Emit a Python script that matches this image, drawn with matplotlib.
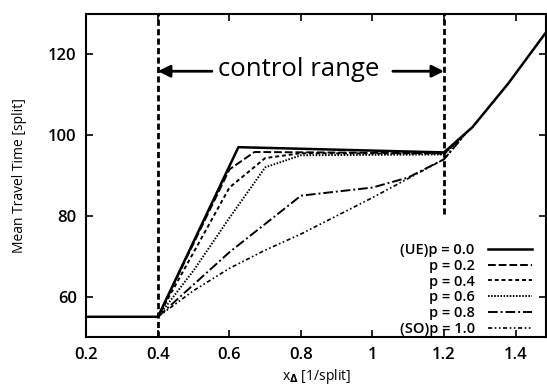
import matplotlib
matplotlib.use("Agg")
import matplotlib.pyplot as plt

plt.rcParams['font.family'] = ['Open Sans', 'DejaVu Sans']
plt.rcParams['font.weight'] = 'semibold'

# Common tail (all strategies converge beyond the control range)
tail_x = [1.28, 1.38, 1.485]
tail_y = [102.0, 112.8, 125.4]

x_ue = [0.2, 0.4, 0.625, 1.2] + tail_x
y_ue = [55.0, 55.0, 97.0, 95.7] + tail_y

x_p02 = [0.4, 0.6, 0.67, 1.2, 1.24]
y_p02 = [55.0, 91.5, 95.8, 95.5, 98.8]

x_p04 = [0.4, 0.6, 0.7, 0.8, 1.2, 1.24]
y_p04 = [55.0, 87.0, 94.3, 95.5, 95.4, 98.7]

x_p06 = [0.4, 0.5, 0.6, 0.7, 0.8, 1.2, 1.24]
y_p06 = [55.0, 66.5, 79.5, 92.0, 95.0, 95.2, 98.6]

x_p08 = [0.4, 0.6, 0.8, 1.0, 1.1, 1.2, 1.26]
y_p08 = [55.0, 71.0, 85.0, 87.0, 89.5, 94.0, 100.3]

x_so = [0.4, 0.5, 0.6, 0.7, 0.8, 1.0, 1.2, 1.26]
y_so = [55.0, 61.5, 67.0, 71.5, 75.5, 84.5, 94.0, 100.3]

labels = ["(UE)p = 0.0", "p = 0.2", "p = 0.4", "p = 0.6", "p = 0.8", "(SO)p = 1.0"]
series = [(x_ue, y_ue), (x_p02, y_p02), (x_p04, y_p04), (x_p06, y_p06), (x_p08, y_p08), (x_so, y_so)]
styles = ['-', (0, (4, 1.5)), (0, (2, 1.5)), (0, (0.8, 0.8)), (0, (5, 1.5, 1, 1.5)), (0, (2.5, 1.5, 1, 1.5, 1, 1.5))]
widths = [1.8, 1.4, 1.4, 1.4, 1.4, 1.2]

control_lo, control_hi = 0.4, 1.2
control_hi_line_bottom = 80.4   # the right marker line is hidden below this by the legend box
xticks = [0.2, 0.4, 0.6, 0.8, 1.0, 1.2, 1.4]
xticklabels = ["0.2", "0.4", "0.6", "0.8", "1", "1.2", "1.4"]
yticks = [60, 80, 100, 120]
ylim = (50, 130)

fig = plt.figure(figsize=(5.47, 3.86), dpi=100)
ax = fig.add_axes([0.158, 0.127, 0.840, 0.837])

for (xs, ys), lab, ls, lw in zip(series, labels, styles, widths):
    ax.plot(xs, ys, color='black', linestyle=ls, linewidth=lw, label=lab)

vdash = (0, (2.2, 1.2))
ax.vlines(control_lo, ylim[0], ylim[1], colors='black', linestyles=[vdash], linewidth=2.0)
ax.vlines(control_hi, control_hi_line_bottom, ylim[1], colors='black', linestyles=[vdash], linewidth=2.0)

ax.set_xlim(0.2, 1.485)
ax.set_ylim(*ylim)
ax.set_xticks(xticks)
ax.set_xticklabels(xticklabels)
ax.set_yticks(yticks)
ax.tick_params(direction='in', length=5, width=1.2, top=True, right=True, labelsize=12, pad=7)
for s in ax.spines.values():
    s.set_linewidth(1.5)

ax.set_xlabel("x$_{\\Delta}$ [1/split]", fontsize=10, labelpad=3)
ax.set_ylabel("Mean Travel Time [split]", fontsize=10, labelpad=15)

# control range annotation
ax.text(0.794, 116.3, "control range", fontsize=18.5, ha='center', va='center', fontweight='normal')
arrowprops = dict(arrowstyle='-|>', color='black', lw=2.0, mutation_scale=18, shrinkA=0, shrinkB=0)
ax.annotate("", xy=(control_lo, 115.8), xytext=(0.551, 115.8), arrowprops=arrowprops)
ax.annotate("", xy=(control_hi, 115.8), xytext=(1.057, 115.8), arrowprops=arrowprops)

leg = ax.legend(loc='lower right', frameon=False, markerfirst=False, fontsize=10.5,
                handlelength=3.0, handletextpad=0.9, labelspacing=0.12,
                borderaxespad=0.0, borderpad=0.35, bbox_to_anchor=(0.980, -0.012))

fig.savefig("out.png", dpi=100)
